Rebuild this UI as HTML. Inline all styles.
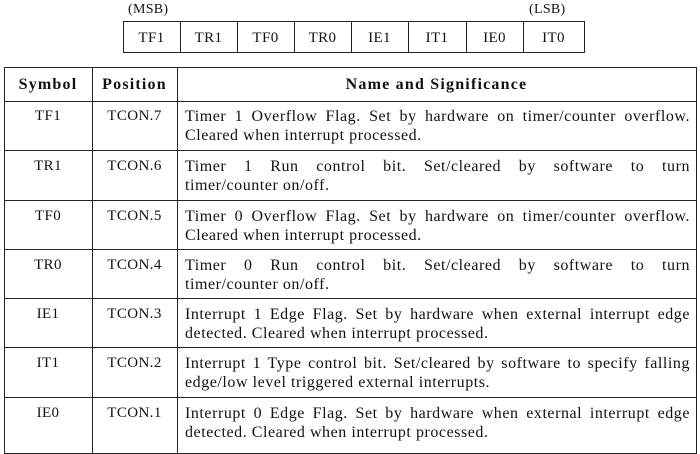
<!DOCTYPE html>
<html><head><style>
body{margin:0;width:700px;height:454px;background:#fff;position:relative;overflow:hidden;font-family:"Liberation Serif",serif;color:#111;}
.a{position:absolute;}
.h{position:absolute;height:0;border-top:1.5px solid #222;}
.v{position:absolute;width:0;border-left:1.5px solid #222;}
.c{position:absolute;text-align:center;font-size:15px;letter-spacing:0.4px;}
.b{font-size:16px;font-weight:bold;letter-spacing:1.2px;}
.t{position:absolute;left:185px;width:505px;font-size:16px;letter-spacing:0.55px;line-height:19px;white-space:nowrap;}
.t div:first-child{text-align:justify;text-align-last:justify;white-space:normal;}
</style></head><body>
<div class="a" style="left:128px;top:2px;font-size:14px;letter-spacing:0.3px">(MSB)</div>
<div class="a" style="left:529px;top:2px;font-size:14px;letter-spacing:0.3px">(LSB)</div>
<div class="a" style="left:123px;top:21px;width:460px;height:30px;border:1.3px solid #222;"></div>
<div class="v" style="left:180px;top:21px;height:31px"></div>
<div class="v" style="left:237px;top:21px;height:31px"></div>
<div class="v" style="left:294px;top:21px;height:31px"></div>
<div class="v" style="left:351px;top:21px;height:31px"></div>
<div class="v" style="left:408px;top:21px;height:31px"></div>
<div class="v" style="left:466px;top:21px;height:31px"></div>
<div class="v" style="left:523px;top:21px;height:31px"></div>
<div class="c" style="left:123px;width:57px;top:30px">TF1</div>
<div class="c" style="left:180px;width:57px;top:30px">TR1</div>
<div class="c" style="left:237px;width:57px;top:30px">TF0</div>
<div class="c" style="left:294px;width:57px;top:30px">TR0</div>
<div class="c" style="left:351px;width:57px;top:30px">IE1</div>
<div class="c" style="left:408px;width:58px;top:30px">IT1</div>
<div class="c" style="left:466px;width:57px;top:30px">IE0</div>
<div class="c" style="left:523px;width:61px;top:30px">IT0</div>

<div class="a" style="left:4px;top:67px;width:691px;height:385px;border:1.5px solid #222;"></div>
<div class="v" style="left:92px;top:67px;height:386px"></div>
<div class="v" style="left:177px;top:67px;height:386px"></div>
<div class="h" style="left:4px;top:101px;width:692px"></div>
<div class="h" style="left:4px;top:150px;width:692px"></div>
<div class="h" style="left:4px;top:200px;width:692px"></div>
<div class="h" style="left:4px;top:249px;width:692px"></div>
<div class="h" style="left:4px;top:298px;width:692px"></div>
<div class="h" style="left:4px;top:347px;width:692px"></div>
<div class="h" style="left:4px;top:397px;width:692px"></div>

<div class="c b" style="left:4px;width:88px;top:76px">Symbol</div>
<div class="c b" style="left:92px;width:85px;top:76px">Position</div>
<div class="c b" style="left:177px;width:519px;top:76px">Name and Significance</div>

<div class="c" style="left:4px;width:88px;top:108px">TF1</div>
<div class="c" style="left:92px;width:85px;top:108px">TCON.7</div>
<div class="t" style="top:107px"><div>Timer 1 Overflow Flag. Set by hardware on timer/counter overflow.</div><div>Cleared when interrupt processed.</div></div>

<div class="c" style="left:4px;width:88px;top:158px">TR1</div>
<div class="c" style="left:92px;width:85px;top:158px">TCON.6</div>
<div class="t" style="top:157px"><div>Timer 1 Run control bit. Set/cleared by software to turn</div><div>timer/counter on/off.</div></div>

<div class="c" style="left:4px;width:88px;top:208px">TF0</div>
<div class="c" style="left:92px;width:85px;top:208px">TCON.5</div>
<div class="t" style="top:207px"><div>Timer 0 Overflow Flag. Set by hardware on timer/counter overflow.</div><div>Cleared when interrupt processed.</div></div>

<div class="c" style="left:4px;width:88px;top:257px">TR0</div>
<div class="c" style="left:92px;width:85px;top:257px">TCON.4</div>
<div class="t" style="top:256px"><div>Timer 0 Run control bit. Set/cleared by software to turn</div><div>timer/counter on/off.</div></div>

<div class="c" style="left:4px;width:88px;top:306px">IE1</div>
<div class="c" style="left:92px;width:85px;top:306px">TCON.3</div>
<div class="t" style="top:305px"><div>Interrupt 1 Edge Flag. Set by hardware when external interrupt edge</div><div>detected. Cleared when interrupt processed.</div></div>

<div class="c" style="left:4px;width:88px;top:355px">IT1</div>
<div class="c" style="left:92px;width:85px;top:355px">TCON.2</div>
<div class="t" style="top:354px"><div>Interrupt 1 Type control bit. Set/cleared by software to specify falling</div><div>edge/low level triggered external interrupts.</div></div>

<div class="c" style="left:4px;width:88px;top:405px">IE0</div>
<div class="c" style="left:92px;width:85px;top:405px">TCON.1</div>
<div class="t" style="top:404px"><div>Interrupt 0 Edge Flag. Set by hardware when external interrupt edge</div><div>detected. Cleared when interrupt processed.</div></div>
</body></html>
